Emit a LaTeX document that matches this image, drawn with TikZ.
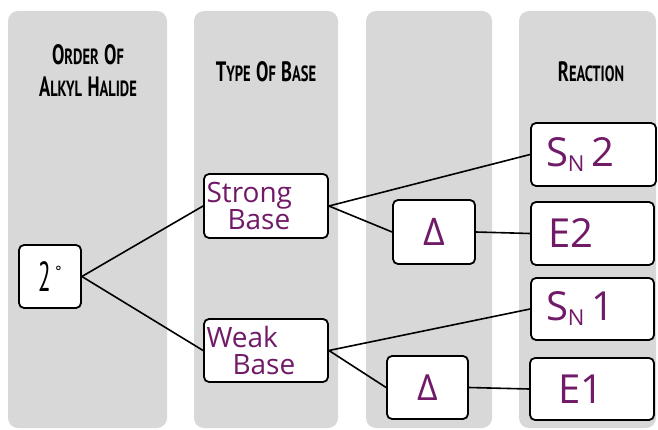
\documentclass[tikz,border=0pt]{standalone}
\usepackage{fontspec}
\setmainfont{PT Sans}
\newfontfamily\handfont{Open Sans}
\definecolor{colgray}{RGB}{216,216,216}
\definecolor{ink}{RGB}{112,26,104}
% mock small caps for the column headings
\newcommand\capbig[1]{{\fontsize{28}{28}\selectfont #1}}
\newcommand\capsmall[1]{{\fontsize{22}{22}\selectfont #1}}
\newcommand\heading[1]{\scalebox{0.66}[1]{\bfseries #1}}
\newcommand\subN{\raisebox{-5pt}{\fontsize{22}{22}\selectfont N}}
\begin{document}
\begin{tikzpicture}[x=1pt,y=-1pt,
  column/.style={fill=colgray, rounded corners=10pt},
  box/.style={draw=black, line width=1.8pt, fill=white, rounded corners=5pt, inner sep=0pt},
  hand/.style={text=ink},
  basebox/.style={box, hand, minimum width=124pt, text width=121pt, align=left,
    font=\handfont\fontsize{28}{27}\selectfont},
  reactbox/.style={box, hand, minimum height=63pt, text width=#1, align=left,
    font=\handfont\fontsize{40}{40}\selectfont},
  head/.style={anchor=base, inner sep=0pt},
  link/.style={line width=1.6pt, black}]
\useasboundingbox (0,0) rectangle (658,430);
\fill[white] (0,0) rectangle (658,430);

% four shaded columns
\fill[column] (8,11) rectangle (167,428);
\fill[column] (194,11) rectangle (338,428);
\fill[column] (366,11) rectangle (492,428);
\fill[column] (519,11) rectangle (656,428);

% headings
\node[head] (h1a) at (88,65) {\heading{\capbig{O}\capsmall{RDER\ } \capbig{O}\capsmall{F}}};
\node[head] (h1b) at (88,97) {\heading{\capbig{A}\capsmall{LKYL\ } \capbig{H}\capsmall{ALIDE}}};
\node[head] (h2) at (266,82) {\heading{\capbig{T}\capsmall{YPE\ } \capbig{O}\capsmall{F\ } \capbig{B}\capsmall{ASE}}};
\node[head] (h4) at (591,82) {\heading{\capbig{R}\capsmall{EACTION}}};

% boxes
\node[box, minimum width=62pt, minimum height=63pt] (deg) at (50,276.5)
  {\scalebox{0.55}[1]{\fontsize{42}{42}\selectfont 2}\hspace{4pt}\raisebox{14pt}{\fontsize{16}{16}\selectfont °}};
\node[basebox, minimum height=64pt] (strong) at (266,206)
  {\hspace*{1pt}Strong\\\hspace*{22pt}Base};
\node[basebox, minimum height=63pt] (weak) at (266,350.5)
  {\hspace*{1pt}Weak\\\hspace*{27pt}Base};
\node[box, minimum width=82pt, minimum height=64pt, hand,
  font=\handfont\fontsize{38}{38}\selectfont] (heat1) at (434,232) {Δ};
\node[box, minimum width=81pt, minimum height=63pt, hand,
  font=\handfont\fontsize{36}{36}\selectfont] (heat2) at (427.5,387.5) {Δ};
\node[reactbox=125pt] (sn2) at (593.5,154.5) {\hspace*{15pt}S\subN\,2};
\node[reactbox=123pt] (e2) at (592.5,233.5) {\hspace*{17pt}E2};
\node[reactbox=123pt, minimum height=62pt] (sn1) at (592.5,309) {\hspace*{15pt}S\subN\,1};
\node[reactbox=124pt, minimum height=62pt] (e1) at (592,389) {\hspace*{28pt}E1};

% connectors
\draw[link] (deg.east) -- (strong.west);
\draw[link] (deg.east) -- (weak.west);
\draw[link] (strong.east) -- (sn2.west);
\draw[link] (strong.east) -- (heat1.west);
\draw[link] (heat1.east) -- (e2.west);
\draw[link] (weak.east) -- (sn1.west);
\draw[link] (weak.east) -- (heat2.west);
\draw[link] (heat2.east) -- (e1.west);
\end{tikzpicture}
\end{document}
